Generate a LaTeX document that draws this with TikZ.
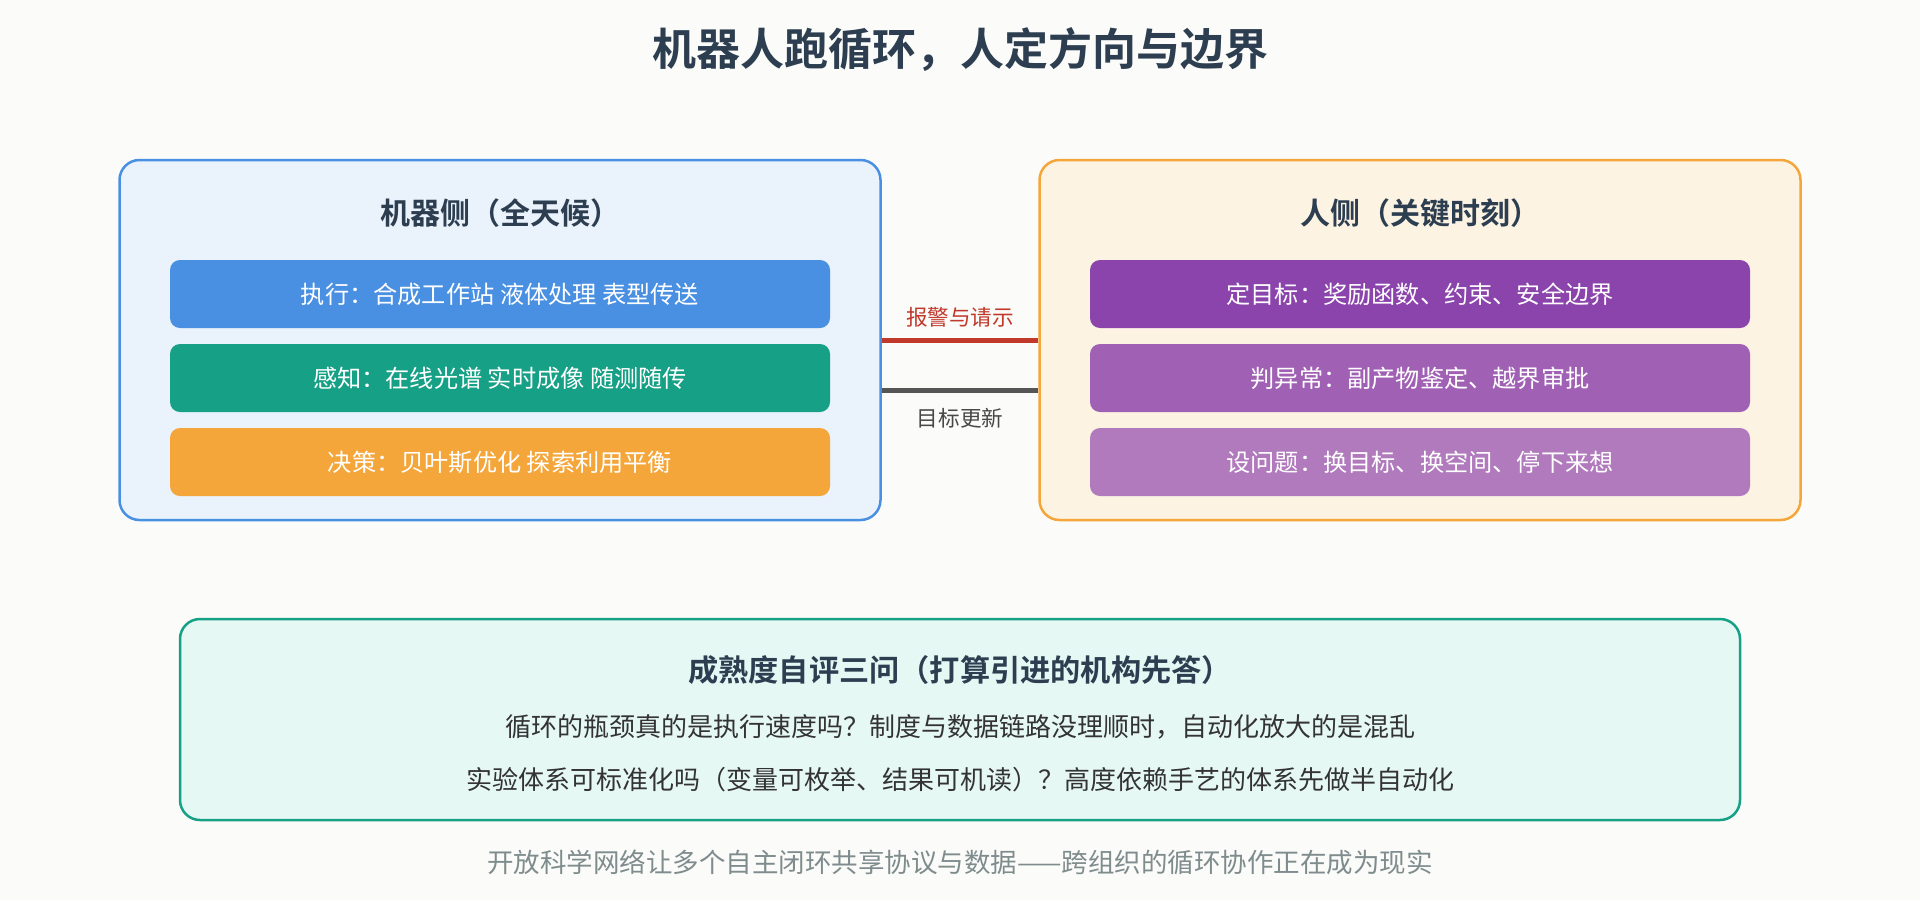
\documentclass[tikz,border=0pt]{standalone}
\usepackage{fontspec}
\setmainfont{Noto Sans CJK SC}[BoldFont={Noto Sans CJK SC Bold}]
\definecolor{bg}{HTML}{FBFBF9}
\definecolor{titlec}{HTML}{2C3E50}
\definecolor{bluec}{HTML}{4A90E2}
\definecolor{bluefill}{HTML}{EAF2FC}
\definecolor{greenc}{HTML}{16A085}
\definecolor{orangec}{HTML}{F4A63A}
\definecolor{orangefill}{HTML}{FDF3E3}
\definecolor{purpleA}{HTML}{8B44AC}
\definecolor{purpleB}{HTML}{A061B5}
\definecolor{purpleC}{HTML}{B07ABD}
\definecolor{redc}{HTML}{C0392B}
\definecolor{greyc}{HTML}{555555}
\definecolor{tealfill}{HTML}{E6F8F4}
\definecolor{bodyc}{HTML}{333333}
\definecolor{footc}{HTML}{7F8C8D}
\tikzset{
  panel/.style={draw, line width=1.25pt, rounded corners=10pt, minimum width=380.5pt, minimum height=180pt},
  bar/.style={rounded corners=5pt, minimum width=330pt, minimum height=34pt, text=white, font=\fontsize{12.1pt}{14pt}\selectfont},
  paneltitle/.style={text=titlec, font=\bfseries\fontsize{15pt}{17pt}\selectfont},
  link/.style={line width=2.5pt},
  linklabel/.style={font=\fontsize{10.8pt}{12pt}\selectfont},
  bodytext/.style={text=bodyc, font=\fontsize{13pt}{15pt}\selectfont}
}
\begin{document}
\begin{tikzpicture}[x=0.5pt,y=-0.5pt]
\fill[bg] (0,0) rectangle (1920,900);
\useasboundingbox (0,0) rectangle (1920,900);

\node[text=titlec, font=\bfseries\fontsize{22pt}{26pt}\selectfont] (title) at (960,50) {机器人跑循环，人定方向与边界};

% left panel
\node[panel, draw=bluec, fill=bluefill] (lbox) at (500,340) {};
\node[paneltitle] (ltitle) at (500,213) {机器侧（全天候）};
\node[bar, fill=bluec] (l1) at (500,294) {执行：合成工作站 液体处理 表型传送};
\node[bar, fill=greenc] (l2) at (500,378) {感知：在线光谱 实时成像 随测随传};
\node[bar, fill=orangec] (l3) at (500,462) {决策：贝叶斯优化 探索利用平衡};

% right panel
\node[panel, draw=orangec, fill=orangefill] (rbox) at (1420,340) {};
\node[paneltitle] (rtitle) at (1420,213) {人侧（关键时刻）};
\node[bar, fill=purpleA] (r1) at (1420,294) {定目标：奖励函数、约束、安全边界};
\node[bar, fill=purpleB] (r2) at (1420,378) {判异常：副产物鉴定、越界审批};
\node[bar, fill=purpleC] (r3) at (1420,462) {设问题：换目标、换空间、停下来想};

% connectors
\draw[link, redc] (lbox.east) -- node[linklabel, text=redc, yshift=11.5pt] (lab1) {报警与请示} (rbox.west);
\draw[link, greyc] ([yshift=-25pt]lbox.east) -- node[linklabel, text=greyc!85!black, yshift=-14pt] (lab2) {目标更新} ([yshift=-25pt]rbox.west);

% bottom panel
\node[draw=greenc, fill=tealfill, line width=1.25pt, rounded corners=10pt, minimum width=780pt, minimum height=100.5pt] (bbox) at (960,719.5) {};
\node[text=titlec, font=\bfseries\fontsize{15.1pt}{17pt}\selectfont] (btitle) at (960,670) {成熟度自评三问（打算引进的机构先答）};
\node[bodytext] (bl1) at (960,727) {循环的瓶颈真的是执行速度吗？制度与数据链路没理顺时，自动化放大的是混乱};
\node[bodytext] (bl2) at (960,780) {实验体系可标准化吗（变量可枚举、结果可机读）？高度依赖手艺的体系先做半自动化};

\node[text=footc, font=\fontsize{13.25pt}{15pt}\selectfont] (foot) at (960,862) {开放科学网络让多个自主闭环共享协议与数据——跨组织的循环协作正在成为现实};
\end{tikzpicture}
\end{document}
